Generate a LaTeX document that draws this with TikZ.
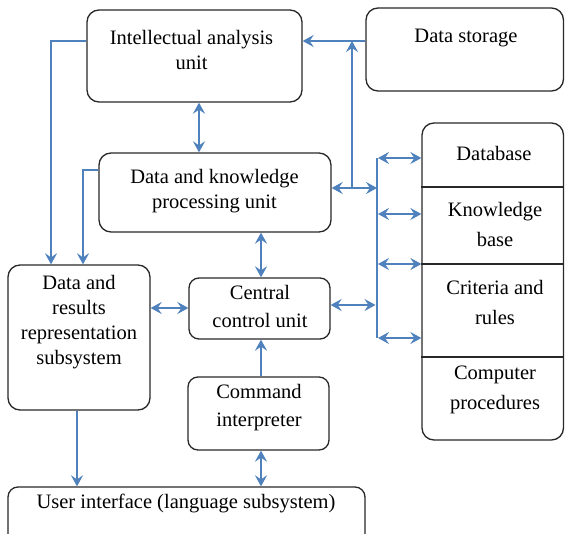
\documentclass[tikz,border=0pt]{standalone}
\usepackage{fontspec}
\setmainfont{Liberation Serif}
\newfontfamily\tnr{Liberation Serif}
\usetikzlibrary{arrows.meta}
\definecolor{lnk}{RGB}{79,129,189}
\definecolor{edgec}{RGB}{40,40,40}
\begin{document}
\begin{tikzpicture}[x=1pt,y=-1pt,
  box/.style={draw=edgec, line width=1.3pt, rounded corners=12pt, inner sep=0pt},
  sbox/.style={box, rounded corners=10pt},
  txt/.style={align=center, inner sep=0pt, font=\tnr\fontsize{20.5}{25}\selectfont},
  wtxt/.style={txt, font=\tnr\fontsize{20.5}{30}\selectfont},
  mtxt/.style={txt, font=\tnr\fontsize{20.5}{28}\selectfont},
  ln/.style={draw=lnk, line width=1.5pt},
  arr/.style={ln, -{Stealth[length=11pt,width=12pt,inset=4pt]}},
  darr/.style={ln, {Stealth[length=11pt,width=12pt,inset=4pt]}-{Stealth[length=11pt,width=12pt,inset=4pt]}},
  divl/.style={draw=edgec, line width=1.3pt}]
\useasboundingbox (0,0) rectangle (565,533);
\fill[white] (0,0) rectangle (565,533);
\clip (0,0) rectangle (565,533);

% boxes
\node[box, minimum width=215pt, minimum height=92pt] (ia) at (194.5,56) {};
\node[box, minimum width=197.5pt, minimum height=83pt] (ds) at (464.75,49.5) {};
\node[box, minimum width=232pt, minimum height=79pt] (dk) at (215,192.5) {};
\node[box, minimum width=142pt, minimum height=145pt] (dr) at (79,337.5) {};
\node[sbox, minimum width=141pt, minimum height=61pt] (cc) at (259.5,308.5) {};
\node[sbox, minimum width=141pt, minimum height=73pt] (ci) at (258.5,413.5) {};
\node[sbox, minimum width=357pt, minimum height=63pt] (ui) at (186.5,518.5) {};
\node[box, minimum width=141.5pt, minimum height=317pt] (st) at (492.75,281.5) {};

% stack dividers
\coordinate (d1) at (0,187);
\coordinate (d2) at (0,264);
\coordinate (d3) at (0,357);
\draw[divl] (st.west |- d1) -- (st.east |- d1);
\draw[divl] (st.west |- d2) -- (st.east |- d2);
\draw[divl] (st.west |- d3) -- (st.east |- d3);

% texts
\node[txt] (ia-t) at (191.5,49.5) {Intellectual analysis\\unit};
\node[txt] (ds-t) at (466,38) {Data storage};
\node[txt] (dk-t) at (214.5,191.5) {Data and knowledge\\processing unit};
\node[txt] (dr-t) at (79,322.5) {Data and\\results\\representation\\subsystem};
\node[mtxt] (cc-t) at (260,306) {Central\\control unit};
\node[mtxt] (ci-t) at (259,407.5) {Command\\interpreter};
\node[txt] (ui-t) at (186,503) {User interface (language subsystem)};
\node[txt] (db-t) at (494,153) {Database};
\node[wtxt] (kb-t) at (495,224) {Knowledge\\base};
\node[wtxt] (cr-t) at (495,302) {Criteria and\\rules};
\node[wtxt] (cp-t) at (495,390) {Computer\\procedures};

% connectors
\coordinate (yA) at (0,41);
\coordinate (xA) at (51,0);
\coordinate (xB) at (83,0);
\coordinate (yB) at (0,170);
\coordinate (j) at (352,188);
\coordinate (bx) at (377,0);
\coordinate (bt) at (377,158);
\coordinate (bb) at (377,338);
\coordinate (xC) at (199,0);
\coordinate (xD) at (261,0);
\coordinate (xE) at (77,0);

\draw[arr] (ia.west |- yA) -| (xA |- dr.north);
\draw[arr] (dk.west |- yB) -| (xB |- dr.north);
\draw[arr] (ds.west |- yA) -- (ia.east |- yA);
\draw[arr] (j) -- (j |- yA);
\draw[darr] (dk.east |- j) -- (bx |- j);
\draw[ln] (bt) -- (bb);
\foreach \yy in {158,214,264,338}{
  \draw[darr] (378,\yy) -- (st.west |- 0,\yy);
}
\draw[darr] (cc.east |- 0,305) -- (375.5,305);
\draw[darr] (dr.east |- 0,308) -- (cc.west |- 0,308);
\draw[darr] (xC |- ia.south) -- (xC |- dk.north);
\draw[darr] (xD |- dk.south) -- (xD |- cc.north);
\draw[arr] (xD |- ci.north) -- (xD |- cc.south);
\draw[arr] (xE |- dr.south) -- (xE |- ui.north);
\draw[darr] (xD |- ci.south) -- (xD |- ui.north);
\end{tikzpicture}
\end{document}
